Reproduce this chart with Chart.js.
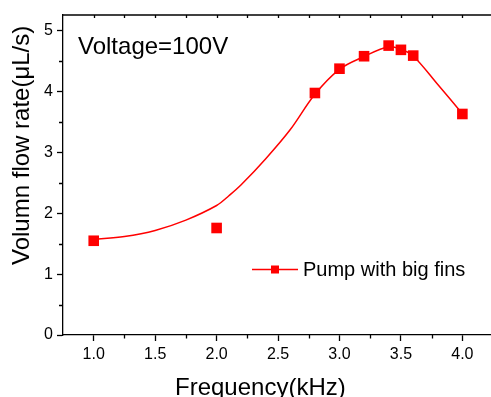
<!DOCTYPE html>
<html>
<head>
<meta charset="utf-8">
<script src="https://cdn.jsdelivr.net/npm/chart.js@4.4.1/dist/chart.umd.min.js"></script>
<style>
  html, body { margin: 0; padding: 0; background: #fff; }
  #wrap { width: 491px; height: 397px; position: relative; }
</style>
</head>
<body>
<div id="wrap"><canvas id="grafico"></canvas></div>
<script>
// datos
const xTicks = [1.0, 1.5, 2.0, 2.5, 3.0, 3.5, 4.0];
const yTicks = [0, 1, 2, 3, 4, 5];
const freqMedida = [1.0, 2.0, 2.8, 3.0, 3.2, 3.4, 3.5, 3.6, 4.0];
const caudalMedido = [1.55, 1.76, 3.98, 4.38, 4.585, 4.76, 4.69, 4.595, 3.635];
const freqAjuste = [1.0, 1.25, 1.5, 1.75, 2.0, 2.1, 2.2, 2.4, 2.6, 2.8, 3.0, 3.2, 3.4, 3.5, 3.6, 3.8, 4.0];
const caudalAjuste = [1.57, 1.62, 1.72, 1.89, 2.13, 2.29, 2.47, 2.90, 3.38, 3.96, 4.37, 4.58, 4.74, 4.70, 4.59, 4.12, 3.64];
const serieNombre = 'Pump with big fins';

const FUENTE = 'Arial, "Liberation Sans", sans-serif';
const ROJO = '#ff0000';

const puntos = (xs, ys) => xs.map((x, i) => ({ x, y: ys[i] }));

// ticks menores, eje superior, textos y leyenda
const extras = {
    id: 'extras',
    afterDraw(chart) {
        const { ctx, chartArea: a, scales: { x, y } } = chart;
        ctx.save();
        ctx.strokeStyle = '#000';
        ctx.lineWidth = 1.3;

        // eje superior
        ctx.beginPath();
        ctx.moveTo(a.left, a.top);
        ctx.lineTo(a.right + 1, a.top);
        ctx.stroke();

        ctx.beginPath();
        for (let v = 1.0; v <= 4.25; v += 0.25) {
            const px = Math.round(x.getPixelForValue(v)) + 0.5;
            if (px > a.right) continue;
            ctx.moveTo(px, a.top);
            ctx.lineTo(px, a.top + 3);
            if (Math.abs(v * 2 - Math.round(v * 2)) > 0.01) {
                ctx.moveTo(px, a.bottom);
                ctx.lineTo(px, a.bottom + 3.5);
            }
        }
        for (let v = 0.5; v <= 5; v += 1) {
            const py = Math.round(y.getPixelForValue(v)) + 0.5;
            ctx.moveTo(a.left, py);
            ctx.lineTo(a.left - 4, py);
        }
        ctx.stroke();

        ctx.fillStyle = '#000';
        ctx.font = `24px ${FUENTE}`;
        ctx.textBaseline = 'alphabetic';
        ctx.textAlign = 'left';
        ctx.fillText('Voltage=100V', 78, 54);

        ctx.fillText('Frequency(kHz)', 175, 395);

        ctx.save();
        ctx.translate(29, 265);
        ctx.rotate(-Math.PI / 2);
        ctx.fillText('Volumn flow rate(\u03BCL/s)', 0, 0);
        ctx.restore();

        // leyenda
        const ly = 269.5;
        ctx.strokeStyle = ROJO;
        ctx.lineWidth = 1.5;
        ctx.beginPath();
        ctx.moveTo(252, ly);
        ctx.lineTo(298, ly);
        ctx.stroke();
        ctx.fillStyle = ROJO;
        ctx.fillRect(271, ly - 4, 8, 8);
        ctx.fillStyle = '#000';
        ctx.font = `20px ${FUENTE}`;
        ctx.textBaseline = 'middle';
        ctx.fillText(serieNombre, 303, ly + 1);
        ctx.restore();
    }
};

new Chart(document.getElementById('grafico'), {
    type: 'scatter',
    data: {
        datasets: [{
            label: 'ajuste',
            data: puntos(freqAjuste, caudalAjuste),
            showLine: true,
            borderColor: ROJO,
            borderWidth: 1.5,
            pointRadius: 0,
            tension: 0.35,
            order: 2
        }, {
            label: serieNombre,
            data: puntos(freqMedida, caudalMedido),
            showLine: false,
            pointStyle: 'rect',
            pointRadius: 7.5,
            pointBackgroundColor: ROJO,
            pointBorderColor: ROJO,
            pointBorderWidth: 0,
            order: 1
        }]
    },
    options: {
        responsive: true,
        maintainAspectRatio: false,
        animation: false,
        layout: { autoPadding: false, padding: { top: 15, right: 0, left: 0, bottom: 0 } },
        plugins: { legend: { display: false }, tooltip: { enabled: false } },
        scales: {
            x: {
                type: 'linear',
                min: 0.75,
                max: 4.233,
                afterBuildTicks: s => { s.ticks = xTicks.map(v => ({ value: v })); },
                afterFit: s => { s.height = 62; s.paddingLeft = 0; s.paddingRight = 0; },
                ticks: {
                    color: '#000',
                    font: { family: FUENTE, size: 16 },
                    padding: 4,
                    maxRotation: 0,
                    autoSkip: false,
                    callback: v => v.toFixed(1)
                },
                grid: { drawOnChartArea: false, tickLength: 6, tickColor: '#000', tickWidth: 1.3 },
                border: { color: '#000', width: 1.3 }
            },
            y: {
                min: 0,
                max: 5.263,
                afterBuildTicks: s => { s.ticks = yTicks.map(v => ({ value: v })); },
                afterFit: s => { s.width = 63; s.paddingTop = 0; s.paddingBottom = 0; },
                ticks: {
                    color: '#000',
                    font: { family: FUENTE, size: 16 },
                    padding: 4,
                    callback: v => String(v)
                },
                grid: { drawOnChartArea: false, tickLength: 6, tickColor: '#000', tickWidth: 1.3 },
                border: { color: '#000', width: 1.3 }
            }
        }
    },
    plugins: [extras]
});
</script>
</body>
</html>
